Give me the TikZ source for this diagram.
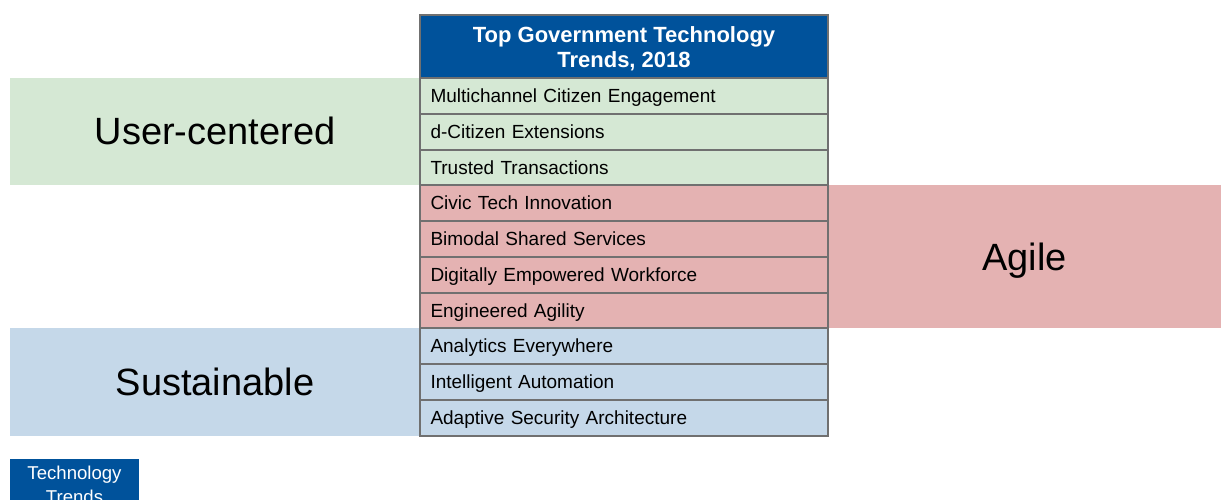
\documentclass[tikz,border=0pt]{standalone}
\usepackage{fontspec}
\setmainfont{Liberation Sans}
\definecolor{headblue}{RGB}{0,82,155}
\definecolor{usergreen}{RGB}{213,232,212}
\definecolor{agilered}{RGB}{228,178,178}
\definecolor{sustblue}{RGB}{197,216,233}
\definecolor{linegray}{RGB}{112,112,112}
\tikzset{
  cell/.style={draw=linegray, line width=2pt, minimum width=408pt, minimum height=35.75pt,
    inner xsep=10.5pt, text width=387pt, align=left, text height=13.5pt, text depth=0pt,
    font=\fontsize{19}{22}\selectfont},
  band/.style={inner sep=0pt, text height=27.2pt, text depth=0pt,
    font=\fontsize{38}{44}\selectfont}
}

\begin{document}
\begin{tikzpicture}[x=1pt, y=-1pt]
  \useasboundingbox (0,0) rectangle (1221,499);
  \clip (0,0) rectangle (1221,499);
  \node[band, fill=usergreen, minimum width=410pt, minimum height=107pt] (user) at (215,131) {User-centered};
  \node[band, fill=agilered, minimum width=393pt, minimum height=143pt] (agile) at (1024.5,256.5) {Agile};
  \node[band, fill=sustblue, minimum width=410pt, minimum height=107.5pt] (sust) at (215,381.75) {Sustainable};
  \node[draw=linegray, line width=2pt, fill=headblue, text=white, minimum width=408pt, minimum height=63pt,
    align=center, font=\fontsize{22}{25}\selectfont\bfseries] (head) at (624,46.5)
    {\rule{0pt}{21pt}Top Government Technology\\Trends, 2018};
  \foreach \i/\t/\c in {1/Multichannel Citizen Engagement/usergreen, 2/d-Citizen Extensions/usergreen,
    3/Trusted Transactions/usergreen, 4/Civic Tech Innovation/agilered, 5/Bimodal Shared Services/agilered,
    6/Digitally Empowered Workforce/agilered, 7/Engineered Agility/agilered,
    8/Analytics Everywhere/sustblue, 9/Intelligent Automation/sustblue, 10/Adaptive Security Architecture/sustblue}
    \node[cell, fill=\c] (row\i) at (624, 78+35.75*\i-17.875) {\t};
  \node[fill=headblue, text=white, anchor=north, minimum width=129pt, align=center,
    inner ysep=7pt, font=\fontsize{18.6}{24}\selectfont] (tag) at (74.5,459) {Technology\\Trends};
\end{tikzpicture}
\end{document}
